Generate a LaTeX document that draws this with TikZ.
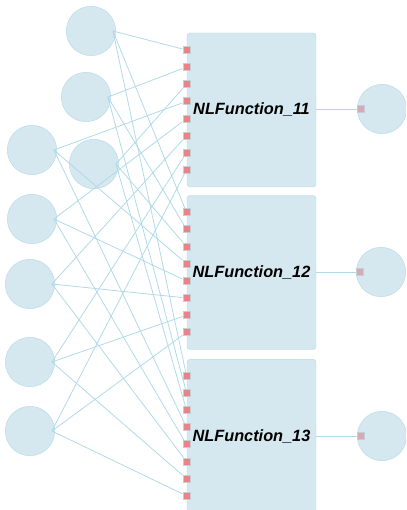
\documentclass[tikz,border=0pt]{standalone}
\usepackage{fontspec}
\setmainfont{Liberation Sans}
\usepackage{tikz}
\usetikzlibrary{backgrounds}

\definecolor{nodefill}{RGB}{213,232,240}
\definecolor{nodeline}{RGB}{178,216,231}
\definecolor{wire}{RGB}{176,218,232}
\definecolor{portred}{RGB}{232,132,134}
\definecolor{portrim}{RGB}{196,206,214}
\definecolor{outred}{RGB}{214,170,180}

\begin{document}
\begin{tikzpicture}[
    x=1pt, y=-1pt,
    var/.style={circle, draw=nodeline, fill=nodefill, minimum size=49.4pt, inner sep=0pt},
    func/.style={rectangle, rounded corners=3pt, draw=nodeline, fill=nodefill, minimum width=129pt, minimum height=154pt, inner sep=0pt, font=\fontsize{16.3}{18}\selectfont\bfseries\itshape},
    inport/.style={rectangle, draw=portrim, fill=portred, line width=1pt, minimum width=7pt, minimum height=7pt, inner sep=0pt},
    outport/.style={inport, fill=outred},
    link/.style={draw=wire, line width=0.8pt}
]
\useasboundingbox (0,0) rectangle (406,510);
\clip (0,0) rectangle (406,510);

% Eingaenge
\node[var] (u1) at (91,31) {};
\node[var] (u2) at (86,97) {};
\node[var] (u3) at (32,150) {};
\node[var] (u4) at (94,164) {};
\node[var] (u5) at (32,219) {};
\node[var] (u6) at (30,284) {};
\node[var] (u7) at (30,362) {};
\node[var] (u8) at (30,431) {};

% Funktionsbloecke
\node[func] (f11) at (251.5,110) {NLFunction\_11};
\node[func] (f12) at (251.5,272.5) {NLFunction\_12};
\node[func] (f13) at (251.5,436.3) {NLFunction\_13};

% Ausgaenge
\node[var] (y11) at (382,109) {};
\node[var] (y12) at (381,272) {};
\node[var] (y13) at (382,436) {};
\node[outport] (y11p) at (361,109) {};
\node[outport] (y12p) at (360,272) {};
\node[outport] (y13p) at (361,436) {};

% Ports links an den Bloecken
\node[inport] (f11p1) at (186.5,50) {};
\node[inport] (f11p2) at (186.5,67.1) {};
\node[inport] (f11p3) at (186.5,84.3) {};
\node[inport] (f11p4) at (186.5,101.4) {};
\node[inport] (f11p5) at (186.5,118.6) {};
\node[inport] (f11p6) at (186.5,135.7) {};
\node[inport] (f11p7) at (186.5,152.8) {};
\node[inport] (f11p8) at (186.5,170) {};

\node[inport] (f12p1) at (186.5,212.3) {};
\node[inport] (f12p2) at (186.5,229.4) {};
\node[inport] (f12p3) at (186.5,246.6) {};
\node[inport] (f12p4) at (186.5,263.7) {};
\node[inport] (f12p5) at (186.5,280.9) {};
\node[inport] (f12p6) at (186.5,298) {};
\node[inport] (f12p7) at (186.5,315.1) {};
\node[inport] (f12p8) at (186.5,332.3) {};

\node[inport] (f13p1) at (186.5,375.8) {};
\node[inport] (f13p2) at (186.5,392.9) {};
\node[inport] (f13p3) at (186.5,410.1) {};
\node[inport] (f13p4) at (186.5,427.2) {};
\node[inport] (f13p5) at (186.5,444.4) {};
\node[inport] (f13p6) at (186.5,461.5) {};
\node[inport] (f13p7) at (186.5,478.6) {};
\node[inport] (f13p8) at (186.5,495.8) {};

% Verbindungen zu NLFunction_11
\draw[link] ([xshift=-3pt]u1.east) -- (f11p1);
\draw[link] ([xshift=-3pt]u2.east) -- (f11p2);
\draw[link] ([xshift=-3pt]u4.east) -- (f11p3);
\draw[link] ([xshift=-3pt]u3.east) -- (f11p4);
\draw[link] ([xshift=-3pt]u5.east) -- (f11p5);
\draw[link] ([xshift=-3pt]u6.east) -- (f11p6);
\draw[link] ([xshift=-3pt]u7.east) -- (f11p7);
\draw[link] ([xshift=-3pt]u8.east) -- (f11p8);

% Verbindungen zu NLFunction_12
\draw[link] ([xshift=-3pt]u1.east) -- (f12p1);
\draw[link] ([xshift=-3pt]u2.east) -- (f12p2);
\draw[link] ([xshift=-3pt]u4.east) -- (f12p3);
\draw[link] ([xshift=-3pt]u3.east) -- (f12p4);
\draw[link] ([xshift=-3pt]u5.east) -- (f12p5);
\draw[link] ([xshift=-3pt]u6.east) -- (f12p6);
\draw[link] ([xshift=-3pt]u7.east) -- (f12p7);
\draw[link] ([xshift=-3pt]u8.east) -- (f12p8);

% Verbindungen zu NLFunction_13
\draw[link] ([xshift=-3pt]u1.east) -- (f13p1);
\draw[link] ([xshift=-3pt]u2.east) -- (f13p2);
\draw[link] ([xshift=-3pt]u4.east) -- (f13p3);
\draw[link] ([xshift=-3pt]u3.east) -- (f13p4);
\draw[link] ([xshift=-3pt]u5.east) -- (f13p5);
\draw[link] ([xshift=-3pt]u6.east) -- (f13p6);
\draw[link] ([xshift=-3pt]u7.east) -- (f13p7);
\draw[link] ([xshift=-3pt]u8.east) -- (f13p8);

% Ausgangsleitungen
\draw[link] (f11.east |- y11p) -- (y11p);
\draw[link] (f12.east |- y12p) -- (y12p);
\draw[link] (f13.east |- y13p) -- (y13p);

\end{tikzpicture}
\end{document}
